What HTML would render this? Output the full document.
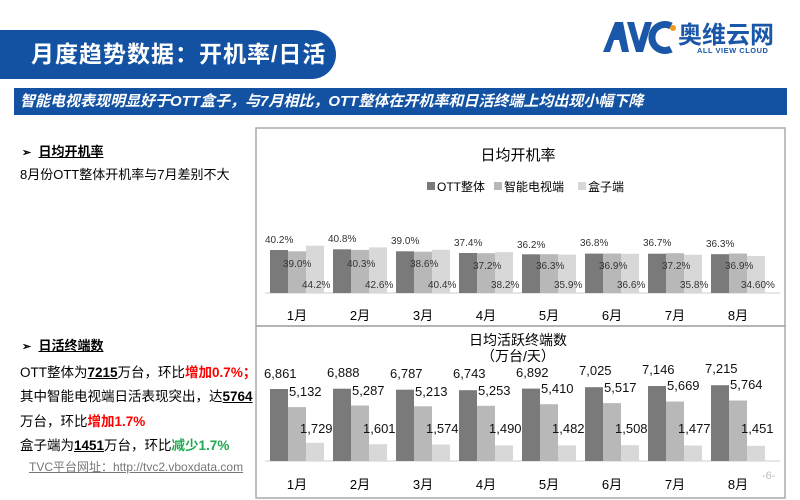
<!DOCTYPE html>
<html><head><meta charset="utf-8"><style>
body{margin:0;width:800px;height:500px;background:#fff;position:relative;overflow:hidden;font-family:"Liberation Sans","Noto Sans CJK SC",sans-serif;}
.a{position:absolute;white-space:nowrap;}
</style></head><body>
<div class="a" style="left:0;top:30px;width:336px;height:49px;background:#1352a2;border-radius:0 25px 25px 0;"></div>
<div class="a" style="left:31px;top:37px;color:#fff;font-size:23px;font-weight:bold;line-height:34px;letter-spacing:1px;">月度趋势数据：开机率/日活</div>
<div class="a" style="left:14px;top:88px;width:773px;height:27px;background:#1352a2;"></div>
<div class="a" style="left:20px;top:90px;color:#fff;font-size:15px;font-weight:bold;font-style:italic;line-height:23px;">智能电视表现明显好于OTT盒子，与7月相比，OTT整体在开机率和日活终端上均出现小幅下降</div>
<svg class="a" style="left:595px;top:16px" width="190" height="44">
<polygon points="8,36 20,6 28,6 34,36 27,36 24,24 19,24 15,36" fill="#1a57a8"/>
<polygon points="32,6 39,6 44,25 50,6 57,6 48,36 41,36" fill="#1a57a8"/>
<path d="M76,10 A13,13 0 1 0 76,33" stroke="#1a57a8" stroke-width="7" fill="none"/>
<circle cx="78" cy="12" r="3" fill="#f39a1e"/>
<text x="83" y="27" font-size="24" font-weight="bold" fill="#1a57a8" font-family="Noto Sans CJK SC">奥维云网</text>
<text x="102" y="37" font-size="7.5" font-weight="bold" fill="#1a57a8" letter-spacing="0.5">ALL VIEW CLOUD</text>
</svg>

<div class="a" style="left:22px;top:141px;font-size:13px;font-weight:bold;"><span style="font-size:11px">➢</span>&nbsp; <u>日均开机率</u></div>
<div class="a" style="left:20px;top:164px;font-size:13px;">8月份OTT整体开机率与7月差别不大</div>
<div class="a" style="left:22px;top:335px;font-size:13px;font-weight:bold;"><span style="font-size:11px">➢</span>&nbsp; <u>日活终端数</u></div>
<div class="a" style="left:20px;top:361px;font-size:13.5px;">OTT整体为<b><u>7215</u></b>万台，环比<b style="color:#f00">增加0.7%；</b></div>
<div class="a" style="left:20px;top:385px;font-size:13.5px;">其中智能电视端日活表现突出，达<b><u>5764</u></b></div>
<div class="a" style="left:20px;top:410px;font-size:13.5px;">万台，环比<b style="color:#f00">增加1.7%</b></div>
<div class="a" style="left:20px;top:434px;font-size:13.5px;">盒子端为<b><u>1451</u></b>万台，环比<b style="color:#1fa84f">减少1.7%</b></div>
<div class="a" style="left:29px;top:458px;font-size:12px;color:#777;text-decoration:underline;">TVC平台网址：http://tvc2.vboxdata.com</div>

<svg class="a" style="left:0;top:0" width="800" height="500" font-family="Liberation Sans, Noto Sans CJK SC, sans-serif">
<rect x="256" y="128" width="529" height="198" fill="none" stroke="#aaa" stroke-width="1.5"/>
<rect x="256" y="326" width="529" height="172" fill="none" stroke="#aaa" stroke-width="1.5"/>
<text x="518" y="160" font-size="15" text-anchor="middle">日均开机率</text>
<rect x="427" y="182" width="8" height="8" fill="#7a7a7a"/><text x="437" y="191" font-size="12">OTT整体</text>
<rect x="494" y="182" width="8" height="8" fill="#b8b8b8"/><text x="504" y="191" font-size="12">智能电视端</text>
<rect x="578" y="182" width="8" height="8" fill="#d8d8d8"/><text x="588" y="191" font-size="12">盒子端</text>
<line x1="265" y1="293" x2="780" y2="293" stroke="#ccc"/>
<g>
<rect x="270" y="250" width="18" height="43" fill="#7a7a7a"/><rect x="288" y="251.3" width="18" height="41.7" fill="#b8b8b8"/><rect x="306" y="245.7" width="18" height="47.3" fill="#d8d8d8"/>
<rect x="333" y="249.3" width="18" height="43.7" fill="#7a7a7a"/><rect x="351" y="249.9" width="18" height="43.1" fill="#b8b8b8"/><rect x="369" y="247.4" width="18" height="45.6" fill="#d8d8d8"/>
<rect x="396" y="251.3" width="18" height="41.7" fill="#7a7a7a"/><rect x="414" y="251.7" width="18" height="41.3" fill="#b8b8b8"/><rect x="432" y="249.8" width="18" height="43.2" fill="#d8d8d8"/>
<rect x="459" y="253" width="18" height="40" fill="#7a7a7a"/><rect x="477" y="253.2" width="18" height="39.8" fill="#b8b8b8"/><rect x="495" y="252.1" width="18" height="40.9" fill="#d8d8d8"/>
<rect x="522" y="254.3" width="18" height="38.7" fill="#7a7a7a"/><rect x="540" y="254.2" width="18" height="38.8" fill="#b8b8b8"/><rect x="558" y="254.6" width="18" height="38.4" fill="#d8d8d8"/>
<rect x="585" y="253.6" width="18" height="39.4" fill="#7a7a7a"/><rect x="603" y="253.5" width="18" height="39.5" fill="#b8b8b8"/><rect x="621" y="253.8" width="18" height="39.2" fill="#d8d8d8"/>
<rect x="648" y="253.7" width="18" height="39.3" fill="#7a7a7a"/><rect x="666" y="253.2" width="18" height="39.8" fill="#b8b8b8"/><rect x="684" y="254.7" width="18" height="38.3" fill="#d8d8d8"/>
<rect x="711" y="254.2" width="18" height="38.8" fill="#7a7a7a"/><rect x="729" y="253.5" width="18" height="39.5" fill="#b8b8b8"/><rect x="747" y="256" width="18" height="37" fill="#d8d8d8"/>
</g>
<g font-size="10" fill="#333">
<text x="265" y="243">40.2%</text><text x="283" y="267">39.0%</text><text x="302" y="288">44.2%</text>
<text x="328" y="242">40.8%</text><text x="347" y="267">40.3%</text><text x="365" y="288">42.6%</text>
<text x="391" y="244">39.0%</text><text x="410" y="267">38.6%</text><text x="428" y="288">40.4%</text>
<text x="454" y="246">37.4%</text><text x="473" y="269">37.2%</text><text x="491" y="288">38.2%</text>
<text x="517" y="248">36.2%</text><text x="536" y="269">36.3%</text><text x="554" y="288">35.9%</text>
<text x="580" y="246">36.8%</text><text x="599" y="269">36.9%</text><text x="617" y="288">36.6%</text>
<text x="643" y="246">36.7%</text><text x="662" y="269">37.2%</text><text x="680" y="288">35.8%</text>
<text x="706" y="247">36.3%</text><text x="725" y="269">36.9%</text><text x="741" y="288">34.60%</text>
</g>
<g font-size="13" text-anchor="middle">
<text x="297" y="320">1月</text><text x="360" y="320">2月</text><text x="423" y="320">3月</text><text x="486" y="320">4月</text><text x="549" y="320">5月</text><text x="612" y="320">6月</text><text x="675" y="320">7月</text><text x="738" y="320">8月</text>
</g>

<text x="518" y="345" font-size="14" text-anchor="middle">日均活跃终端数</text>
<text x="518" y="361" font-size="14" text-anchor="middle">（万台/天）</text>
<line x1="265" y1="461" x2="780" y2="461" stroke="#ccc"/>
<g>
<rect x="270" y="389" width="18" height="72" fill="#7a7a7a"/><rect x="288" y="407.1" width="18" height="53.9" fill="#b8b8b8"/><rect x="306" y="442.8" width="18" height="18.2" fill="#d8d8d8"/>
<rect x="333" y="388.7" width="18" height="72.3" fill="#7a7a7a"/><rect x="351" y="405.5" width="18" height="55.5" fill="#b8b8b8"/><rect x="369" y="444.2" width="18" height="16.8" fill="#d8d8d8"/>
<rect x="396" y="389.7" width="18" height="71.3" fill="#7a7a7a"/><rect x="414" y="406.3" width="18" height="54.7" fill="#b8b8b8"/><rect x="432" y="444.5" width="18" height="16.5" fill="#d8d8d8"/>
<rect x="459" y="390.2" width="18" height="70.8" fill="#7a7a7a"/><rect x="477" y="405.8" width="18" height="55.2" fill="#b8b8b8"/><rect x="495" y="445.4" width="18" height="15.6" fill="#d8d8d8"/>
<rect x="522" y="388.6" width="18" height="72.4" fill="#7a7a7a"/><rect x="540" y="404.2" width="18" height="56.8" fill="#b8b8b8"/><rect x="558" y="445.4" width="18" height="15.6" fill="#d8d8d8"/>
<rect x="585" y="387.2" width="18" height="73.8" fill="#7a7a7a"/><rect x="603" y="403.1" width="18" height="57.9" fill="#b8b8b8"/><rect x="621" y="445.2" width="18" height="15.8" fill="#d8d8d8"/>
<rect x="648" y="386" width="18" height="75" fill="#7a7a7a"/><rect x="666" y="401.5" width="18" height="59.5" fill="#b8b8b8"/><rect x="684" y="445.5" width="18" height="15.5" fill="#d8d8d8"/>
<rect x="711" y="385.2" width="18" height="75.8" fill="#7a7a7a"/><rect x="729" y="400.5" width="18" height="60.5" fill="#b8b8b8"/><rect x="747" y="445.8" width="18" height="15.2" fill="#d8d8d8"/>
</g>
<g font-size="13" fill="#111">
<text x="264" y="378">6,861</text><text x="289" y="396">5,132</text><text x="300" y="433">1,729</text>
<text x="327" y="377">6,888</text><text x="352" y="395">5,287</text><text x="363" y="433">1,601</text>
<text x="390" y="378">6,787</text><text x="415" y="396">5,213</text><text x="426" y="433">1,574</text>
<text x="453" y="378">6,743</text><text x="478" y="395">5,253</text><text x="489" y="433">1,490</text>
<text x="516" y="377">6,892</text><text x="541" y="393">5,410</text><text x="552" y="433">1,482</text>
<text x="579" y="375">7,025</text><text x="604" y="392">5,517</text><text x="615" y="433">1,508</text>
<text x="642" y="374">7,146</text><text x="667" y="390">5,669</text><text x="678" y="433">1,477</text>
<text x="705" y="373">7,215</text><text x="730" y="389">5,764</text><text x="741" y="433">1,451</text>
</g>
<g font-size="13" text-anchor="middle">
<text x="297" y="489">1月</text><text x="360" y="489">2月</text><text x="423" y="489">3月</text><text x="486" y="489">4月</text><text x="549" y="489">5月</text><text x="612" y="489">6月</text><text x="675" y="489">7月</text><text x="738" y="489">8月</text>
</g>
<text x="762" y="479" font-size="11" fill="#bbb">-6-</text>
</svg>
</body></html>
